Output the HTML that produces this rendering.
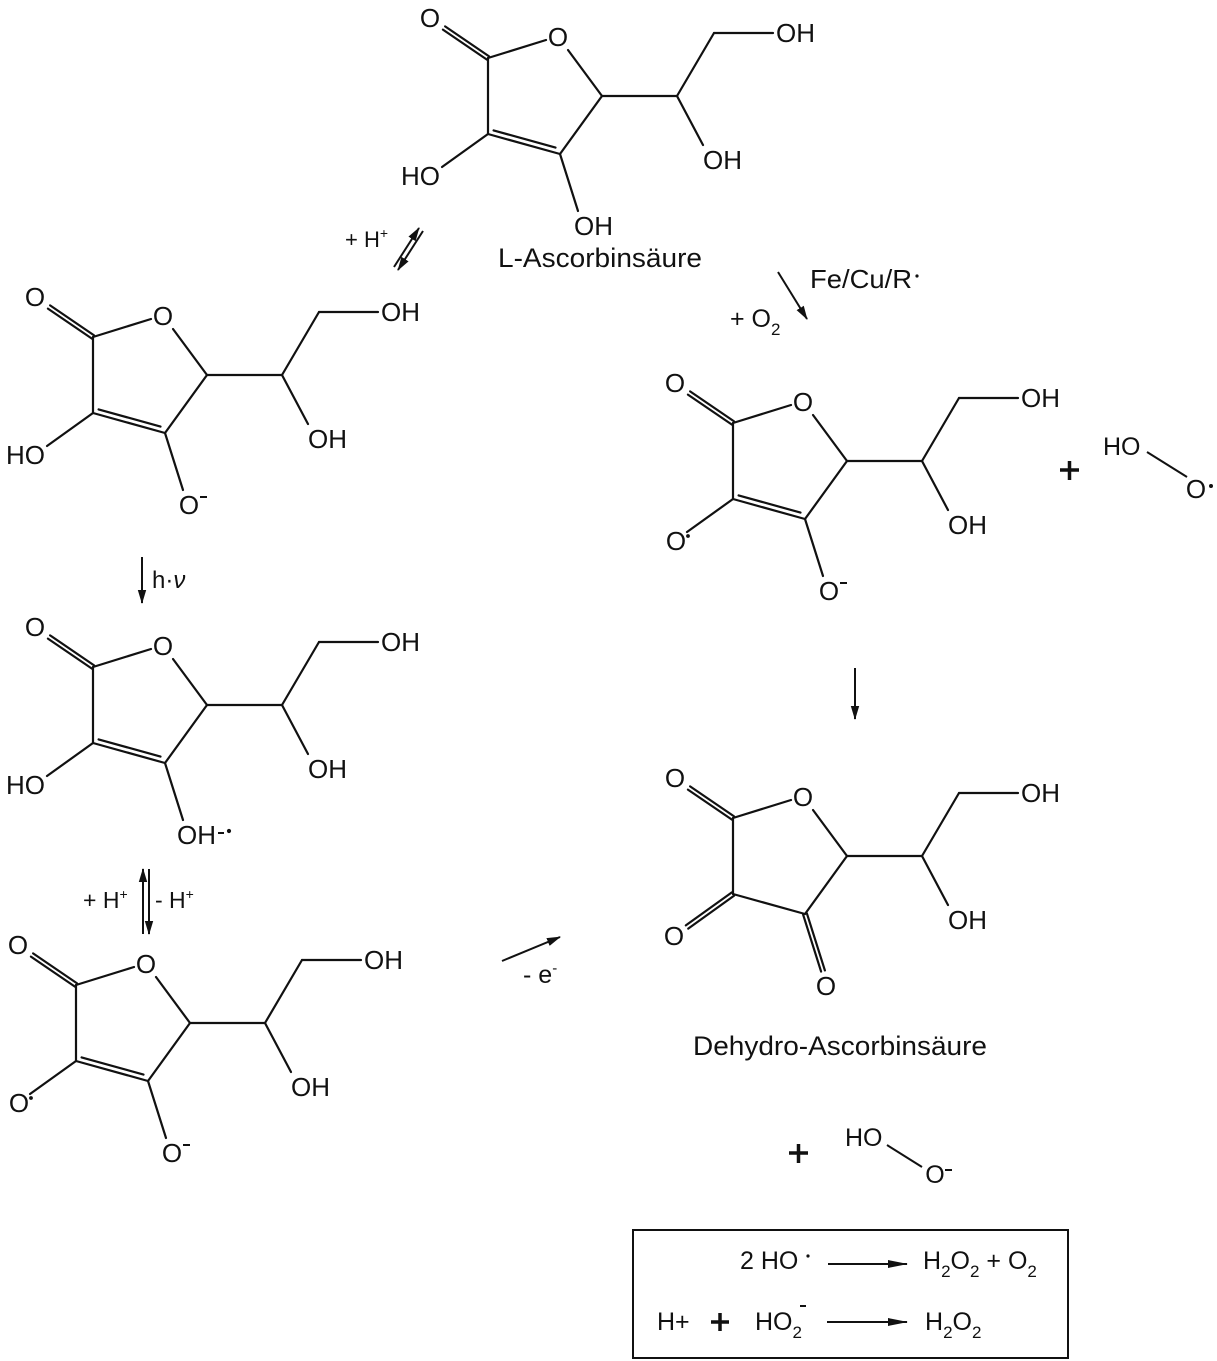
<!DOCTYPE html>
<html>
<head>
<meta charset="utf-8">
<style>
  html,body{margin:0;padding:0;background:#fff;}
  svg{display:block;}
  text{font-family:"Liberation Sans",Arial,sans-serif;fill:#111;}
</style>
</head>
<body>
<svg width="1217" height="1361" viewBox="0 0 1217 1361" xmlns="http://www.w3.org/2000/svg">
<defs>
  <marker id="ah" markerWidth="14" markerHeight="10" refX="13" refY="5" orient="auto" markerUnits="userSpaceOnUse">
    <path d="M0,0.8 L14,5 L0,9.2 Z" fill="#111"/>
  </marker>
  <marker id="ahl" markerWidth="20" markerHeight="10" refX="19" refY="5" orient="auto" markerUnits="userSpaceOnUse">
    <path d="M0,1 L20,5 L0,9 Z" fill="#111"/>
  </marker>
  <g id="sk" stroke="#111" stroke-width="2.2" fill="none" stroke-linecap="round">
    <line x1="1.1" y1="-1.65" x2="-42.9" y2="-31.65"/>
    <line x1="-1.1" y1="1.65" x2="-45.1" y2="-28.35"/>
    <line x1="0" y1="0" x2="58" y2="-18"/>
    <line x1="80" y1="-8" x2="114" y2="38"/>
    <line x1="114" y1="38" x2="72" y2="96"/>
    <line x1="0" y1="76" x2="72" y2="96"/>
    <line x1="0" y1="0" x2="0" y2="76"/>
    <line x1="114" y1="38" x2="189" y2="38"/>
    <line x1="189" y1="38" x2="215" y2="87"/>
    <line x1="189" y1="38" x2="226" y2="-25"/>
    <line x1="226" y1="-25" x2="285" y2="-25"/>
  </g>
  <g id="ene" stroke="#111" stroke-width="2.2" fill="none" stroke-linecap="round">
    <line x1="5.6" y1="72.4" x2="67.5" y2="89.6"/>
    <line x1="0" y1="76" x2="-46" y2="109"/>
    <line x1="72" y1="96" x2="90" y2="153"/>
  </g>
  <g id="dk" stroke="#111" stroke-width="2.2" fill="none" stroke-linecap="round">
    <line x1="1.17" y1="77.63" x2="-44.8" y2="110.6"/>
    <line x1="-1.17" y1="74.37" x2="-47.2" y2="107.4"/>
    <line x1="73.9" y1="95.4" x2="91.9" y2="152.4"/>
    <line x1="70.1" y1="96.6" x2="88.1" y2="153.6"/>
  </g>
</defs>

<!-- Molecule 1: L-Ascorbinsäure -->
<g transform="translate(488,58)" font-size="26">
  <use href="#sk"/><use href="#ene"/>
  <text x="-58" y="-31" text-anchor="middle">O</text>
  <text x="70" y="-12" text-anchor="middle">O</text>
  <text x="215" y="111">OH</text>
  <text x="288" y="-16">OH</text>
  <text x="-48" y="127" text-anchor="end">HO</text>
  <text x="86" y="177">OH</text>
</g>
<text x="498" y="267" font-size="27" textLength="204" lengthAdjust="spacingAndGlyphs">L-Ascorbinsäure</text>

<!-- Molecule 2 -->
<g transform="translate(93,337)" font-size="26">
  <use href="#sk"/><use href="#ene"/>
  <text x="-58" y="-31" text-anchor="middle">O</text>
  <text x="70" y="-12" text-anchor="middle">O</text>
  <text x="215" y="111">OH</text>
  <text x="288" y="-16">OH</text>
  <text x="-48" y="127" text-anchor="end">HO</text>
  <text x="96" y="177" text-anchor="middle">O</text>
  <line x1="107" y1="160" x2="114" y2="160" stroke="#111" stroke-width="2"/>
</g>

<!-- Molecule 3 -->
<g transform="translate(733,423)" font-size="26">
  <use href="#sk"/><use href="#ene"/>
  <text x="-58" y="-31" text-anchor="middle">O</text>
  <text x="70" y="-12" text-anchor="middle">O</text>
  <text x="215" y="111">OH</text>
  <text x="288" y="-16">OH</text>
  <text x="-57" y="127" text-anchor="middle">O</text>
  <circle cx="-45" cy="113" r="1.9" fill="#111"/>
  <text x="96" y="177" text-anchor="middle">O</text>
  <line x1="107" y1="160" x2="114" y2="160" stroke="#111" stroke-width="2"/>
</g>

<!-- Molecule 4 -->
<g transform="translate(93,667)" font-size="26">
  <use href="#sk"/><use href="#ene"/>
  <text x="-58" y="-31" text-anchor="middle">O</text>
  <text x="70" y="-12" text-anchor="middle">O</text>
  <text x="215" y="111">OH</text>
  <text x="288" y="-16">OH</text>
  <text x="-48" y="127" text-anchor="end">HO</text>
  <text x="84" y="177">OH</text>
  <line x1="125" y1="166" x2="131" y2="166" stroke="#111" stroke-width="2"/>
  <circle cx="136" cy="164" r="2.1" fill="#111"/>
</g>

<!-- Molecule 5 -->
<g transform="translate(76,985)" font-size="26">
  <use href="#sk"/><use href="#ene"/>
  <text x="-58" y="-31" text-anchor="middle">O</text>
  <text x="70" y="-12" text-anchor="middle">O</text>
  <text x="215" y="111">OH</text>
  <text x="288" y="-16">OH</text>
  <text x="-57" y="127" text-anchor="middle">O</text>
  <circle cx="-45" cy="113" r="1.9" fill="#111"/>
  <text x="96" y="177" text-anchor="middle">O</text>
  <line x1="107" y1="160" x2="114" y2="160" stroke="#111" stroke-width="2"/>
</g>

<!-- Molecule 6: Dehydro-Ascorbinsäure -->
<g transform="translate(733,818)" font-size="26">
  <use href="#sk"/><use href="#dk"/>
  <text x="-58" y="-31" text-anchor="middle">O</text>
  <text x="70" y="-12" text-anchor="middle">O</text>
  <text x="215" y="111">OH</text>
  <text x="288" y="-16">OH</text>
  <text x="-59" y="127" text-anchor="middle">O</text>
  <text x="93" y="177" text-anchor="middle">O</text>
</g>
<text x="693" y="1055" font-size="27" textLength="294" lengthAdjust="spacingAndGlyphs">Dehydro-Ascorbinsäure</text>

<!-- Arrows -->
<g stroke="#111" stroke-width="2" fill="none">
  <line x1="394" y1="267" x2="419" y2="228" marker-end="url(#ah)"/>
  <line x1="423" y1="231" x2="398" y2="270" marker-end="url(#ah)"/>
  <line x1="778" y1="272" x2="807" y2="319" marker-end="url(#ah)"/>
  <line x1="142" y1="557" x2="142" y2="603" marker-end="url(#ah)"/>
  <line x1="143" y1="934" x2="143" y2="869" marker-end="url(#ah)"/>
  <line x1="149" y1="869" x2="149" y2="934" marker-end="url(#ah)"/>
  <line x1="502" y1="961" x2="560" y2="937" marker-end="url(#ah)"/>
  <line x1="855" y1="668" x2="855" y2="719" marker-end="url(#ah)"/>
  <line x1="828" y1="1264" x2="907" y2="1264" marker-end="url(#ahl)"/>
  <line x1="827" y1="1322" x2="907" y2="1322" marker-end="url(#ahl)"/>
</g>

<!-- Arrow labels -->
<text x="345" y="247" font-size="22">+ H<tspan font-size="14" dy="-9">+</tspan></text>
<text x="810" y="288" font-size="26" textLength="102" lengthAdjust="spacingAndGlyphs">Fe/Cu/R</text>
<circle cx="917" cy="276" r="1.6" fill="#111"/>
<text x="730" y="327" font-size="25">+ O<tspan font-size="17" dy="8">2</tspan></text>
<text x="152" y="588" font-size="24">h·<tspan font-style="italic">ν</tspan></text>
<text x="83" y="908" font-size="23">+ H<tspan font-size="14" dy="-9">+</tspan></text>
<text x="155" y="908" font-size="23">- H<tspan font-size="14" dy="-9">+</tspan></text>
<text x="523" y="983" font-size="25">- e<tspan font-size="15" dy="-10">-</tspan></text>

<!-- + HO-O• right -->
<g stroke="#111" stroke-width="3.5">
  <line x1="1060" y1="470" x2="1079" y2="470"/>
  <line x1="1069.5" y1="461" x2="1069.5" y2="480"/>
</g>
<text x="1103" y="455" font-size="25">HO</text>
<line x1="1147" y1="452" x2="1187" y2="477" stroke="#111" stroke-width="2"/>
<text x="1196" y="498" font-size="26" text-anchor="middle">O</text>
<circle cx="1211" cy="486" r="2" fill="#111"/>

<!-- + HO-O- bottom -->
<g stroke="#111" stroke-width="3.5">
  <line x1="789" y1="1153" x2="808" y2="1153"/>
  <line x1="798.5" y1="1144" x2="798.5" y2="1163"/>
</g>
<text x="845" y="1146" font-size="25">HO</text>
<line x1="887" y1="1145" x2="922" y2="1167" stroke="#111" stroke-width="2"/>
<text x="935" y="1183" font-size="25" text-anchor="middle">O</text>
<line x1="945" y1="1170" x2="952" y2="1170" stroke="#111" stroke-width="2"/>

<!-- Box -->
<rect x="633" y="1230" width="435" height="128" fill="none" stroke="#111" stroke-width="2"/>
<text x="740" y="1269" font-size="25">2 HO</text>
<circle cx="808" cy="1256" r="1.6" fill="#111"/>
<text x="923" y="1269" font-size="25">H<tspan font-size="17" dy="8">2</tspan><tspan dy="-8">O</tspan><tspan font-size="17" dy="8">2</tspan><tspan dy="-8"> + O</tspan><tspan font-size="17" dy="8">2</tspan></text>
<text x="657" y="1330" font-size="25">H+</text>
<g stroke="#111" stroke-width="3.5">
  <line x1="711" y1="1322" x2="729" y2="1322"/>
  <line x1="720" y1="1313" x2="720" y2="1331"/>
</g>
<text x="755" y="1330" font-size="25">HO<tspan font-size="17" dy="8">2</tspan></text>
<line x1="800" y1="1306" x2="806" y2="1306" stroke="#111" stroke-width="2"/>
<text x="925" y="1330" font-size="25">H<tspan font-size="17" dy="8">2</tspan><tspan dy="-8">O</tspan><tspan font-size="17" dy="8">2</tspan></text>
</svg>
</body>
</html>
